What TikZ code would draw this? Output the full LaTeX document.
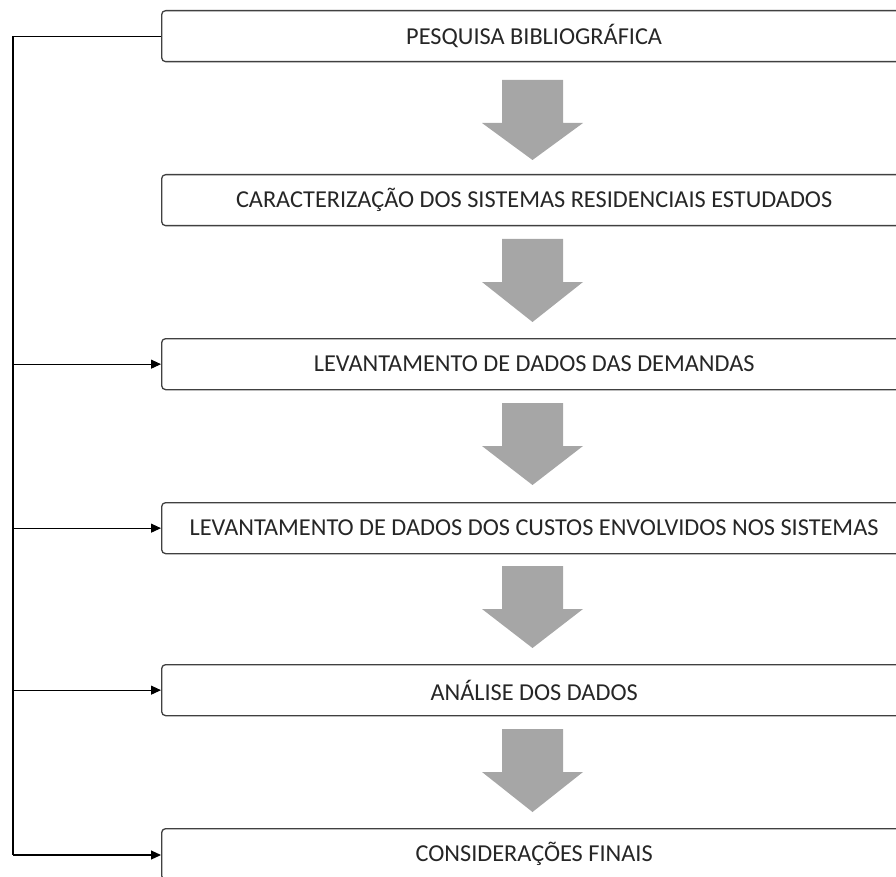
\documentclass[tikz,border=0pt]{standalone}
\usepackage{fontspec}
\setmainfont{Carlito}
\usetikzlibrary{arrows.meta}
\definecolor{boxline}{HTML}{404040}
\definecolor{arrowgray}{HTML}{A6A6A6}
\tikzset{
  stagebox/.style={draw=boxline, line width=1.3pt, rounded corners=4pt, fill=white,
    minimum width=745pt, minimum height=51pt, inner sep=0pt,
    font=\fontsize{24.3}{26}\selectfont, text=black!85, anchor=north west},
  feed/.style={draw=black, line width=1.1pt, -{Triangle[length=10pt,width=9pt]}},
  trunk/.style={draw=black, line width=1.1pt},
  bigarrow/.style={fill=arrowgray, draw=none}
}
\newcommand{\grayarrow}[2]{% top y, tip y
  \fill[bigarrow] (502,#1) -- (563,#1) -- (563,#1+43) -- (583,#1+43) -- (532.5,#2)
    -- (482,#1+43) -- (502,#1+43) -- cycle;}
\begin{document}
\begin{tikzpicture}[x=1pt,y=-1pt]
\useasboundingbox (0,0) rectangle (896,877);
\node[stagebox] (b1) at (161,10) {PESQUISA BIBLIOGRÁFICA};
\node[stagebox] (b2) at (161,174) {CARACTERIZAÇÃO DOS SISTEMAS RESIDENCIAIS ESTUDADOS};
\node[stagebox] (b3) at (161,338) {LEVANTAMENTO DE DADOS DAS DEMANDAS};
\node[stagebox] (b4) at (161,502) {LEVANTAMENTO DE DADOS DOS CUSTOS ENVOLVIDOS NOS SISTEMAS};
\node[stagebox] (b5) at (161,664) {ANÁLISE DOS DADOS};
\node[stagebox] (b6) at (161,828) {CONSIDERAÇÕES FINAIS};
\grayarrow{80}{160}
\grayarrow{239}{322}
\grayarrow{403}{485}
\grayarrow{566}{648}
\grayarrow{729}{812}
\coordinate (t1) at (13,0 |- b1.west);
\coordinate (t3) at (13,0 |- b3.west);
\coordinate (t4) at (13,0 |- b4.west);
\coordinate (t5) at (13,0 |- b5.west);
\coordinate (t6) at (13,855);
\path[trunk] (b1.west) -- (t1) -- (t6);
\path[feed] (t3) -- (b3.west);
\path[feed] (t4) -- (b4.west);
\path[feed] (t5) -- (b5.west);
\path[feed] (t6) -- (t6 -| b6.west);
\end{tikzpicture}
\end{document}
